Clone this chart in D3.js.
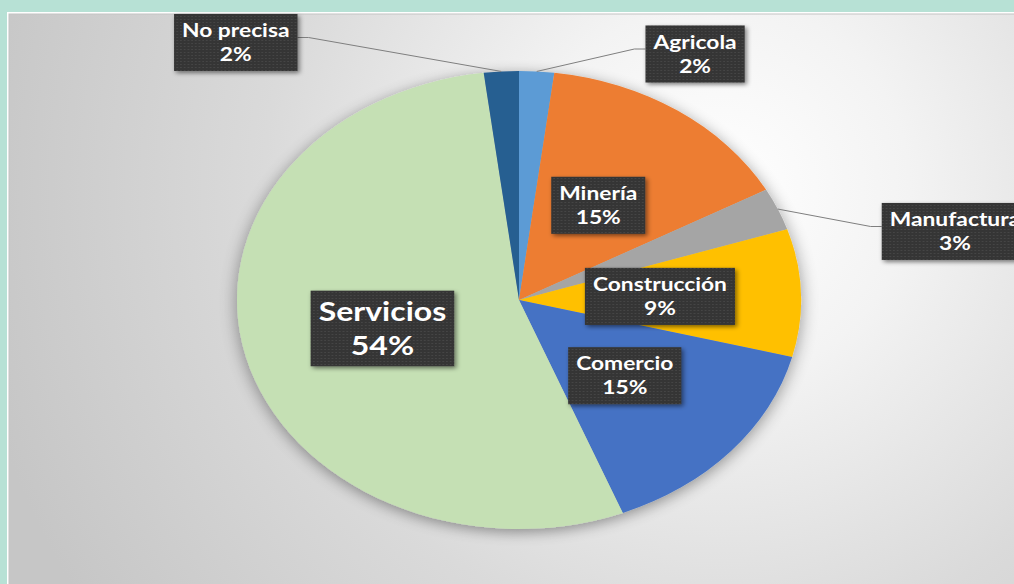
<!DOCTYPE html>
<html><head><meta charset="utf-8">
<script src="https://cdn.jsdelivr.net/npm/d3@7"></script>
<style>html,body{margin:0;padding:0;background:#b7e1d5;overflow:hidden}svg{display:block}</style>
</head><body>
<svg id="chart" width="1014" height="584"></svg>
<script>
const categories = ["Agricola","Minería","Manufactura","Construcción","Comercio","Servicios","No precisa"];
const values = [2, 15, 3, 9, 15, 54, 2];
const pctLabels = ["2%","15%","3%","9%","15%","54%","2%"];
const colors = ["#5b9bd5","#ed7d31","#a5a5a5","#ffc000","#4472c4","#c5e0b4","#255e91"];

const svg = d3.select("#chart");
const W = 1014, H = 584;
const defs = svg.append("defs");

const grad = defs.append("radialGradient").attr("id","bg").attr("gradientUnits","userSpaceOnUse")
  .attr("cx",720).attr("cy",190).attr("r",760);
[[0,"#ffffff"],[0.25,"#f3f3f3"],[0.6,"#dadada"],[1,"#c6c6c6"]].forEach(s=>grad.append("stop").attr("offset",s[0]).attr("stop-color",s[1]));

const pshadow = defs.append("filter").attr("id","pshadow").attr("x","-20%").attr("y","-20%").attr("width","140%").attr("height","140%");
pshadow.append("feGaussianBlur").attr("in","SourceAlpha").attr("stdDeviation",7).attr("result","b");
pshadow.append("feOffset").attr("in","b").attr("dx",0).attr("dy",3).attr("result","o");
pshadow.append("feComponentTransfer").attr("in","o").attr("result","t").append("feFuncA").attr("type","linear").attr("slope",0.4);
const pm = pshadow.append("feMerge"); pm.append("feMergeNode").attr("in","t"); pm.append("feMergeNode").attr("in","SourceGraphic");

const bshadow = defs.append("filter").attr("id","bshadow").attr("x","-20%").attr("y","-20%").attr("width","150%").attr("height","150%");
bshadow.append("feGaussianBlur").attr("in","SourceAlpha").attr("stdDeviation",2).attr("result","b");
bshadow.append("feOffset").attr("in","b").attr("dx",2).attr("dy",2).attr("result","o");
bshadow.append("feComponentTransfer").attr("in","o").attr("result","t").append("feFuncA").attr("type","linear").attr("slope",0.5);
const bm = bshadow.append("feMerge"); bm.append("feMergeNode").attr("in","t"); bm.append("feMergeNode").attr("in","SourceGraphic");

const pat = defs.append("pattern").attr("id","dots").attr("patternUnits","userSpaceOnUse").attr("width",3).attr("height",3);
pat.append("rect").attr("width",3).attr("height",3).attr("fill","#363636");
pat.append("rect").attr("x",1).attr("y",1).attr("width",1).attr("height",1).attr("fill","#4a4a4a");

// frame
svg.append("rect").attr("x",7).attr("y",12).attr("width",1100).attr("height",700).attr("fill","#ffffff");
svg.append("rect").attr("x",9).attr("y",14).attr("width",1100).attr("height",700).attr("fill","url(#bg)").attr("stroke","#c4c4c4").attr("stroke-width",1);

const cx = 519, cy = 300, r = 229, sx = 282/229;
const g = svg.append("g").attr("transform",`translate(${cx},${cy}) scale(${sx},1)`);

const data = categories.map((c,i)=>({name:c, value:values[i], pct:pctLabels[i], color:colors[i]}));
const pie = d3.pie().value(d=>d.value).sort(null);
const arcs = pie(data);
const arc = d3.arc().innerRadius(0).outerRadius(r);

g.append("g").attr("filter","url(#pshadow)").selectAll("path").data(arcs).join("path")
  .attr("d",arc).attr("fill",d=>d.data.color);

// label layout: inside labels at centroid; outside labels with leader lines
const outside = {
  "Agricola":   {dx: 143,  dy: -246, side: "left"},
  "No precisa": {dx: -230, dy: -257.5, side: "right"},
  "Manufactura":{dx: 354,  dy: -68.5, side: "left"}
};

const labels = g.append("g");
arcs.forEach(a=>{
  const name = a.data.name;
  const big = name === "Servicios";
  const fs = big ? 26 : 18.5;
  const lh = fs*1.3;
  let px, py;
  if (outside[name]) { px = outside[name].dx; py = outside[name].dy; }
  else { const c = arc.centroid(a); px = c[0]; py = c[1]; }
  const lg = labels.append("g");
  const rect = lg.append("rect").attr("fill","url(#dots)").attr("filter","url(#bshadow)");
  const lines = [name, a.data.pct];
  const texts = lines.map((t,i)=> lg.append("text")
      .attr("x",px).attr("y", py + (i-0.5)*lh + 0.36*fs)
      .attr("text-anchor","middle")
      .attr("font-family","Lato, 'Open Sans', sans-serif").attr("font-weight",700)
      .attr("font-size",fs).attr("fill","#ffffff").text(t));
  const tw = d3.max(texts, t=>t.node().getComputedTextLength());
  const bw = tw + 13, bh = 2*lh + (big?8:9);
  rect.attr("x",px-bw/2).attr("y",py-bh/2).attr("width",bw).attr("height",bh);
  if (outside[name]) {
    const mid = (a.startAngle+a.endAngle)/2;
    const ex = Math.sin(mid)*r, ey = -Math.cos(mid)*r;
    const side = outside[name].side;
    const ax = side==="left" ? px-bw/2 : px+bw/2;
    const ay = py - 5;
    const kx = side==="left" ? ax-9 : ax+9;
    g.insert("path", ":scope > g:last-child")
      .attr("d", d3.line()([[ex,ey],[kx,ay],[ax,ay]]))
      .attr("fill","none").attr("stroke","#7f7f7f").attr("stroke-width",1)
      .attr("vector-effect","non-scaling-stroke");
  }
});
</script>
</body></html>
